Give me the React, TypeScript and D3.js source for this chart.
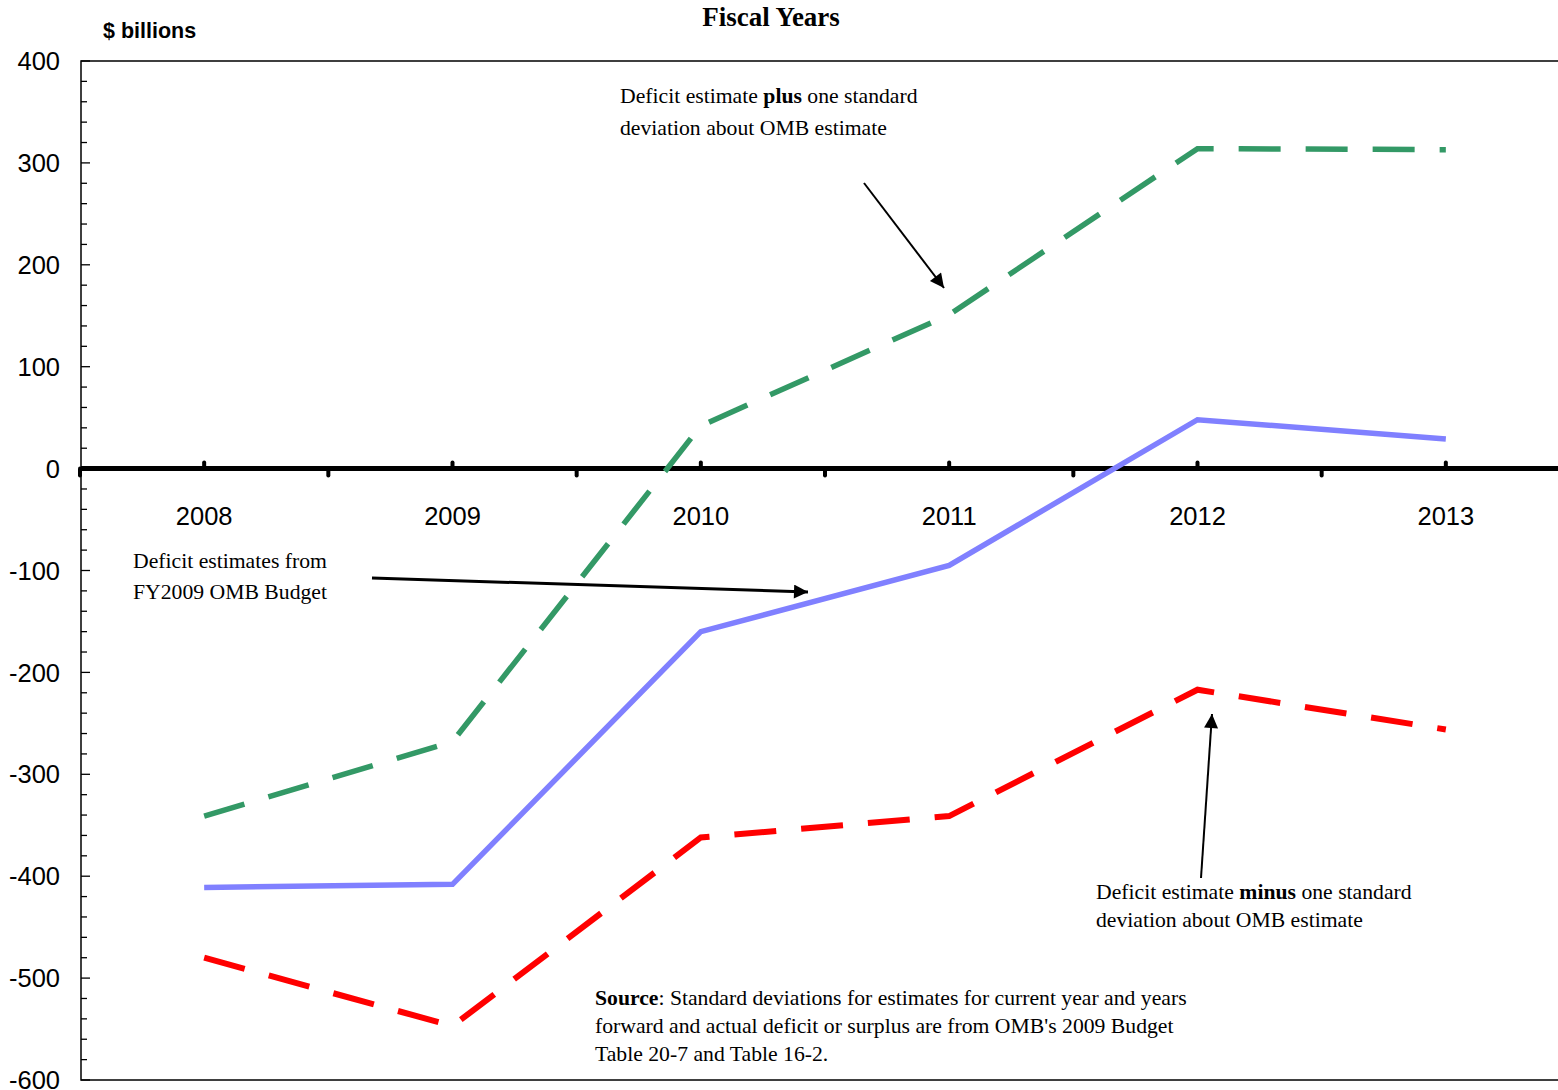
import { useEffect, useRef } from "react";
import * as d3 from "d3";

// Fiscal years on the category axis
const years = ["2008", "2009", "2010", "2011", "2012", "2013"];

// Deficit estimates from FY2009 OMB Budget ($ billions)
const ombEstimate = [-411, -408, -160, -95, 48, 29];
// Estimate plus one standard deviation
const plusOneSd = [-341, -268, 42, 151, 314, 313];
// Estimate minus one standard deviation
const minusOneSd = [-480, -547, -362, -341, -217, -256];

const yTicks = [400, 300, 200, 100, 0, -100, -200, -300, -400, -500, -600];

export default function App() {
  const svgRef = useRef<SVGSVGElement>(null);
  const width = 1558;
  const height = 1090;

  useEffect(() => {
    if (!svgRef.current) return;
    const svg = d3.select(svgRef.current);
    svg.selectAll("*").remove();

    const left = 81;
    const right = 1570;
    const top = 61;
    const bottom = 1080;

    const x = d3.scaleBand<string>().domain(years).range([left - 1, right]);
    const y = d3.scaleLinear().domain([-600, 400]).range([bottom, top]);
    const cx = (d: string) => (x(d) ?? 0) + x.bandwidth() / 2;

    const sans = "Liberation Sans, Arial, sans-serif";
    const serif = "Liberation Serif, Times New Roman, serif";

    const defs = svg.append("defs");
    defs
      .append("marker")
      .attr("id", "arrow")
      .attr("viewBox", "0 0 10 10")
      .attr("refX", 10)
      .attr("refY", 5)
      .attr("markerUnits", "userSpaceOnUse")
      .attr("markerWidth", 16)
      .attr("markerHeight", 14)
      .attr("orient", "auto")
      .append("path")
      .attr("d", "M0,0 L10,5 L0,10 Z")
      .attr("fill", "#000");

    // Plot frame
    svg
      .append("rect")
      .attr("x", left)
      .attr("y", top)
      .attr("width", right - left)
      .attr("height", bottom - top)
      .attr("fill", "none")
      .attr("stroke", "#000")
      .attr("stroke-width", 1.5);

    // Y axis ticks: majors every 100, minors every 20
    d3.range(-600, 401, 20).forEach((v) => {
      const major = v % 100 === 0;
      svg
        .append("line")
        .attr("x1", left)
        .attr("x2", left + (major ? 9 : 6))
        .attr("y1", y(v))
        .attr("y2", y(v))
        .attr("stroke", "#000")
        .attr("stroke-width", 1.3);
    });

    yTicks.forEach((v) => {
      svg
        .append("text")
        .attr("x", 60)
        .attr("y", y(v))
        .attr("dy", "0.36em")
        .attr("text-anchor", "end")
        .attr("font-family", sans)
        .attr("font-size", 25.5)
        .attr("fill", "#000")
        .text(v);
    });

    // Zero line with category ticks
    svg
      .append("line")
      .attr("x1", left)
      .attr("x2", right)
      .attr("y1", y(0))
      .attr("y2", y(0))
      .attr("stroke", "#000")
      .attr("stroke-width", 5);

    years.forEach((d) => {
      svg
        .append("line")
        .attr("x1", cx(d))
        .attr("x2", cx(d))
        .attr("y1", y(0))
        .attr("y2", y(0) - 6)
        .attr("stroke", "#000")
        .attr("stroke-width", 4)
        .attr("stroke-linecap", "round");
      svg
        .append("line")
        .attr("x1", x(d) ?? 0)
        .attr("x2", x(d) ?? 0)
        .attr("y1", y(0))
        .attr("y2", y(0) + 7)
        .attr("stroke", "#000")
        .attr("stroke-width", 4)
        .attr("stroke-linecap", "round");
      svg
        .append("text")
        .attr("x", cx(d))
        .attr("y", 525)
        .attr("text-anchor", "middle")
        .attr("font-family", sans)
        .attr("font-size", 25.5)
        .attr("fill", "#000")
        .text(d);
    });

    // Series lines
    const line = d3
      .line<number>()
      .x((_, i) => cx(years[i]))
      .y((v) => y(v));

    svg
      .append("path")
      .datum(ombEstimate)
      .attr("d", line)
      .attr("fill", "none")
      .attr("stroke", "#8080FF")
      .attr("stroke-width", 5.5);

    svg
      .append("path")
      .datum(plusOneSd)
      .attr("d", line)
      .attr("fill", "none")
      .attr("stroke", "#339966")
      .attr("stroke-width", 5.5)
      .attr("stroke-dasharray", "42,25");

    svg
      .append("path")
      .datum(minusOneSd)
      .attr("d", line)
      .attr("fill", "none")
      .attr("stroke", "#FF0000")
      .attr("stroke-width", 6)
      .attr("stroke-dasharray", "42,25");

    // Titles
    svg
      .append("text")
      .attr("x", 771)
      .attr("y", 26)
      .attr("text-anchor", "middle")
      .attr("font-family", serif)
      .attr("font-weight", "bold")
      .attr("font-size", 27)
      .text("Fiscal Years");

    svg
      .append("text")
      .attr("x", 103)
      .attr("y", 38)
      .attr("font-family", sans)
      .attr("font-weight", "bold")
      .attr("font-size", 21.5)
      .text("$ billions");

    // Annotations
    const note = (
      lines: { t: string; b?: boolean }[][],
      x0: number,
      y0: number,
      lh: number
    ) => {
      lines.forEach((parts, i) => {
        const t = svg
          .append("text")
          .attr("x", x0)
          .attr("y", y0 + i * lh)
          .attr("font-family", serif)
          .attr("font-size", 21.7)
          .attr("fill", "#000");
        parts.forEach((p) =>
          t
            .append("tspan")
            .attr("font-weight", p.b ? "bold" : "normal")
            .text(p.t)
        );
      });
    };

    note(
      [
        [{ t: "Deficit estimate " }, { t: "plus", b: true }, { t: " one standard" }],
        [{ t: "deviation about OMB estimate" }],
      ],
      620,
      103,
      32
    );
    note(
      [[{ t: "Deficit estimates from" }], [{ t: "FY2009 OMB Budget" }]],
      133,
      568,
      31
    );
    note(
      [
        [{ t: "Deficit estimate " }, { t: "minus", b: true }, { t: " one standard" }],
        [{ t: "deviation about OMB estimate" }],
      ],
      1096,
      899,
      28
    );
    note(
      [
        [
          { t: "Source", b: true },
          { t: ": Standard deviations for estimates for current year and years" },
        ],
        [{ t: "forward and actual deficit or surplus are from OMB's 2009 Budget" }],
        [{ t: "Table 20-7 and Table 16-2." }],
      ],
      595,
      1005,
      28
    );

    const arrow = (x1: number, y1: number, x2: number, y2: number, w: number) =>
      svg
        .append("line")
        .attr("x1", x1)
        .attr("y1", y1)
        .attr("x2", x2)
        .attr("y2", y2)
        .attr("stroke", "#000")
        .attr("stroke-width", w)
        .attr("marker-end", "url(#arrow)");

    arrow(864, 183, 944, 288, 2);
    arrow(372, 578, 808, 592, 3);
    arrow(1201, 878, 1212, 714, 2);
  }, []);

  return (
    <svg
      ref={svgRef}
      width={width}
      height={height}
      style={{ position: "absolute", left: 0, top: 0, background: "#fff" }}
    ></svg>
  );
}
